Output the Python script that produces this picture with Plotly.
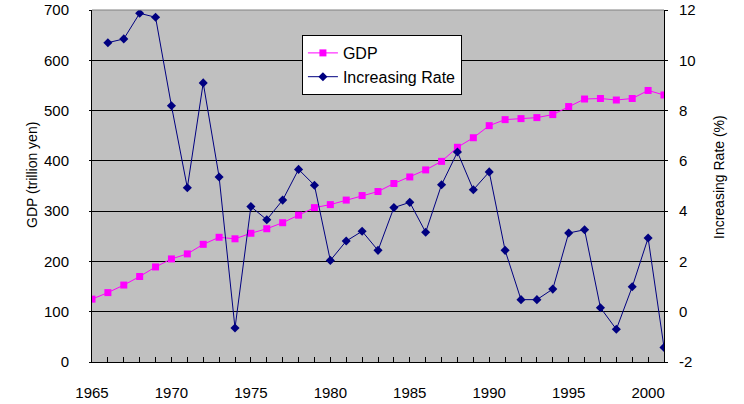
import plotly.graph_objects as go

years = list(range(1965, 2002))
gdp = [125, 138, 153, 170, 189, 205, 215, 234, 248, 245, 256, 265, 277, 292, 307,
       313, 322, 331, 339, 355, 368, 382, 399, 427, 446, 470, 482, 484, 486, 492,
       508, 523, 524, 521, 524, 540, 531]
rate_years = list(range(1966, 2002))
rate = [10.70, 10.85, 11.87, 11.71, 8.19, 4.93, 9.10, 5.36, -0.65, 4.18, 3.66, 4.44,
        5.66, 5.03, 2.04, 2.81, 3.20, 2.44, 4.14, 4.35, 3.16, 5.05, 6.35, 4.85, 5.56,
        2.44, 0.48, 0.48, 0.90, 3.13, 3.26, 0.16, -0.70, 0.99, 2.93, -1.42]
rate_ticks = [-2, 0, 2, 4, 6, 8, 10, 12]
rate_tick_labels = ["-2", "0", "2", "4", "6", "8", "10", "12"]

FONT = "Liberation Sans, Arial, sans-serif"

fig = go.Figure()
fig.add_trace(go.Scatter(x=years, y=gdp, name="GDP", mode="lines+markers",
                         legendgroup="a",
                         line=dict(color="#FF00FF", width=1),
                         marker=dict(symbol="square", size=7, color="#FF00FF")))
fig.add_trace(go.Scatter(x=rate_years, y=rate, name="Increasing Rate", mode="lines+markers",
                         yaxis="y2", legendgroup="b",
                         line=dict(color="#000080", width=1),
                         marker=dict(symbol="diamond", size=7, color="#000080")))

fig.update_layout(
    width=744, height=404,
    margin=dict(l=92, r=80, t=10, b=42),
    paper_bgcolor="white", plot_bgcolor="#C0C0C0",
    font=dict(family=FONT, size=15, color="black"),
    showlegend=True,
    legend=dict(x=0.367, y=0.929, xanchor="left", yanchor="top",
                bgcolor="white", bordercolor="black", borderwidth=1,
                font=dict(size=16), traceorder="grouped", tracegroupgap=0,
                itemwidth=30),
    xaxis=dict(range=[1965, 2001], tickmode="linear", tick0=1965, dtick=5,
               ticks="inside", ticklen=5, tickcolor="black",
               minor=dict(dtick=1, ticks="inside", ticklen=5, tickcolor="black"),
               showgrid=False, showline=True, linecolor="black", linewidth=1,
               mirror=False, zeroline=False, ticklabelstandoff=17, automargin=False,
               tickfont=dict(size=15)),
    yaxis=dict(range=[0, 700], dtick=100, showgrid=True, gridcolor="black", gridwidth=1,
               showline=True, linecolor="black", linewidth=1, ticks="outside",
               ticklen=2, tickcolor="black", zeroline=False, automargin=False,
               tickfont=dict(size=15), ticklabelstandoff=17),
    yaxis2=dict(range=[-2, 12], tickmode="array", tickvals=rate_ticks,
                ticktext=rate_tick_labels, overlaying="y", side="right",
                showgrid=False, showline=True, linecolor="black", linewidth=1,
                ticks="outside", ticklen=3, tickcolor="black", zeroline=False,
                automargin=False, tickfont=dict(size=15), ticklabelstandoff=8),
)
fig.add_annotation(text="GDP (trillion yen)", textangle=-90, xref="paper", yref="paper",
                   x=(32 - 92) / 572, y=(362 - 175) / 352, showarrow=False,
                   xanchor="center", yanchor="middle", font=dict(size=14))
fig.add_annotation(text="Increasing Rate (%)", textangle=-90, xref="paper", yref="paper",
                   x=(719 - 92) / 572, y=(362 - 177) / 352, showarrow=False,
                   xanchor="center", yanchor="middle", font=dict(size=14))
fig.add_shape(type="line", xref="paper", yref="paper", x0=0, x1=1, y0=1, y1=1,
              line=dict(color="#808080", width=1))

fig.write_html("out.html", config={"displayModeBar": False},
               post_script="document.body.style.margin='0';document.body.style.overflow='hidden';")
